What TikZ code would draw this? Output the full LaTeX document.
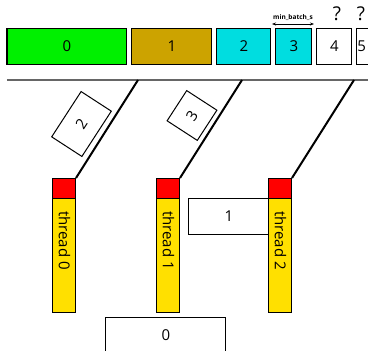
\documentclass[tikz,border=0pt]{standalone}
\usepackage{fontspec}
\setmainfont{Open Sans}
\usetikzlibrary{arrows.meta,calc,positioning}
\definecolor{batchgreen}{RGB}{0,240,0}
\definecolor{batchgold}{RGB}{204,163,0}
\definecolor{batchcyan}{RGB}{0,221,224}
\definecolor{threadyellow}{RGB}{255,224,0}
\tikzstyle{blk}=[draw,line width=1pt,inner sep=0pt,outer sep=0pt,minimum height=36pt,font=\fontsize{15}{18}\selectfont]
\tikzstyle{head}=[draw,line width=1pt,fill=red,inner sep=0pt,outer sep=0pt,minimum width=23pt,minimum height=20pt]
\tikzstyle{thr}=[draw,line width=1pt,fill=threadyellow,inner sep=0pt,outer sep=0pt,minimum width=23pt,minimum height=114pt]
\tikzstyle{link}=[line width=2pt]

\begin{document}
\begin{tikzpicture}[x=1pt,y=-1pt,node distance=5pt]
        \clip (0,0) rectangle (368,351);
        % batches on top
        \node [blk,fill=batchgreen,minimum width=120pt] (b0) at (67,46) {0};
        \node [blk,fill=batchgold,minimum width=80pt]  (b1) [right=of b0] {1};
        \node [blk,fill=batchcyan,minimum width=54pt]  (b2) [right=of b1] {2};
        \node [blk,fill=batchcyan,minimum width=36pt]  (b3) [right=of b2] {3};
        \node [blk,minimum width=35pt] (b4) [right=of b3] {4};
        \node [blk,minimum width=35pt,text width=34pt,align=left,inner xsep=0.5pt] (b5) [right=of b4] {5};
        \node [font=\fontsize{19}{20}\selectfont] (q4) at (337,14) {?};
        \node [font=\fontsize{19}{20}\selectfont] (q5) at (361,14) {?};
        % min batch size
        \coordinate (m1) at (272,24);
        \coordinate (m2) at (314,24);
        \draw [line width=0.8pt,{Stealth[length=4pt]}-{Stealth[length=4pt]}] (m1) -- (m2)
            node [midway,above=0pt,font=\fontsize{6.5}{7}\bfseries] {min\_batch\_s};
        % queue line
        \coordinate (hl) at (7,80);
        \coordinate (hr) at (368,80);
        \draw [gray!80!black,line width=1.3pt] (hl) -- (hr);
        % threads
        \node [head] (r0) at (64.5,188) {};
        \node [head] (r1) at (168.5,188) {};
        \node [head] (r2) at (280.5,188) {};
        \node [thr] (t0) [below=0pt of r0] {};
        \node [thr] (t1) [below=0pt of r1] {};
        \node [thr] (t2) [below=0pt of r2] {};
        \foreach \i in {0,1,2} {
            \node [rotate=-90,anchor=west,inner sep=0pt,font=\fontsize{15}{18}\selectfont] at ($(t\i.north)+(0,13)$) {thread \i};
            \coordinate (l\i) at ($(r\i.north east)+(62,-98)$);
            \draw [link] (r\i.north east) -- (l\i);
        }
        % batches in flight
        \node [blk,minimum width=54pt,rotate=57] (f2) at (81.5,124) {2};
        \node [blk,minimum width=36pt,rotate=57] (f3) at (192,115.5) {3};
        % batches taken
        \node [blk,minimum width=80pt,anchor=north east] (w1) at (t2.north west) {1};
        \node [blk,minimum width=120pt,anchor=north] (w0) at (166,317) {0};
    \end{tikzpicture}
\end{document}
